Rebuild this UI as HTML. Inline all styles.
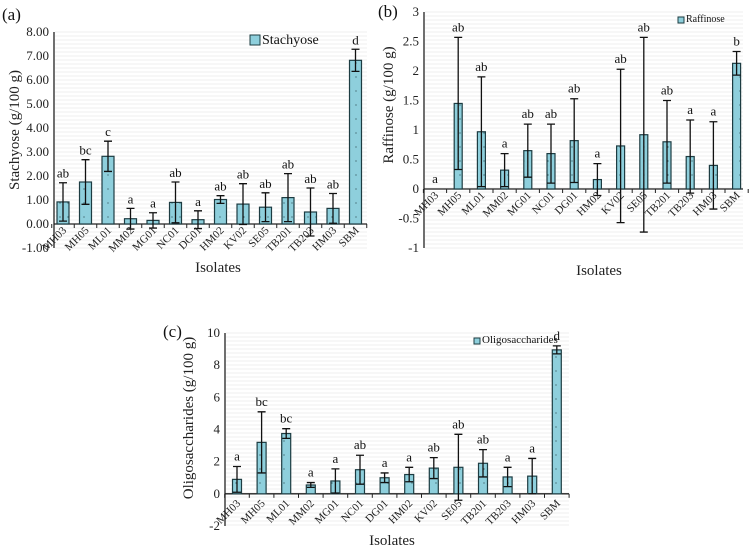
<!DOCTYPE html>
<html><head><meta charset="utf-8">
<style>
html,body{margin:0;padding:0;background:#fff;}
svg, svg text{font-family:"Liberation Serif","DejaVu Serif",serif;}
</style></head>
<body>
<svg id="fig" width="750" height="549" viewBox="0 0 750 549" font-family="Liberation Serif, serif"></svg>
<script>
const categories = ["MH03","MH05","ML01","MM02","MG01","NC01","DG01","HM02","KV02","SE05","TB201","TB203","HM03","SBM"];

const stachyoseValues = [0.92,1.75,2.82,0.22,0.15,0.9,0.18,1.02,0.83,0.7,1.1,0.5,0.65,6.82];
const stachyoseErrors = [0.8,0.93,0.63,0.43,0.32,0.85,0.37,0.16,0.85,0.6,1.0,1.0,0.62,0.46];
const stachyoseLetters = ["ab","bc","c","a","a","ab","a","ab","ab","ab","ab","ab","ab","d"];
const stachyoseTicks = ["-1.00","0.00","1.00","2.00","3.00","4.00","5.00","6.00","7.00","8.00"];

const raffinoseValues = [0,1.45,0.97,0.32,0.65,0.6,0.82,0.16,0.73,0.92,0.8,0.55,0.4,2.13];
const raffinoseErrors = [0,1.12,0.93,0.28,0.45,0.5,0.71,0.27,1.3,1.65,0.7,0.62,0.74,0.2];
const raffinoseLetters = ["a","ab","ab","a","ab","ab","ab","a","ab","ab","ab","a","a","b"];
const raffinoseTicks = ["-1","-0.5","0","0.5","1","1.5","2","2.5","3"];

const oligoValues = [0.9,3.2,3.75,0.55,0.8,1.5,1.0,1.2,1.6,1.65,1.9,1.05,1.1,8.95];
const oligoErrors = [0.8,1.9,0.3,0.15,0.75,0.9,0.3,0.45,0.65,2.05,0.85,0.6,1.1,0.25];
const oligoLetters = ["a","bc","bc","a","a","ab","a","a","ab","ab","ab","a","a","d"];
const oligoTicks = ["-2","0","2","4","6","8","10"];

const NS="http://www.w3.org/2000/svg";
const svg=document.getElementById('fig');
function mk(tag,attrs,parent,text){
  const e=document.createElementNS(NS,tag);
  for(const k in attrs) e.setAttribute(k,attrs[k]);
  if(tag==='text') e.setAttribute('font-family','Liberation Serif, serif');
  if(text!==undefined) e.textContent=text;
  (parent||svg).appendChild(e);
  return e;
}
const defs=mk('defs',{});
const pat=mk('pattern',{id:'dots',width:8,height:14,patternUnits:'userSpaceOnUse'},defs);
mk('rect',{width:8,height:14,fill:'#8ecfdc'},pat);
mk('circle',{cx:4,cy:7,r:0.6,fill:'#2a4a50'},pat);

function chart(cfg, values, errors, letters, ticks){
  const g=mk('g',{});
  
  
  const ymin=parseFloat(ticks[0]), ymax=parseFloat(ticks[ticks.length-1]);
  const y=v=>cfg.y0-(v-ymin)/(ymax-ymin)*(cfg.y0-cfg.y1);
  const x=i=>cfg.cx0+i*cfg.step;
  for(let yy=cfg.y1; yy<=cfg.y0; yy+=4){
    const l=mk('line',{x1:cfg.ax+1,x2:cfg.right,y1:yy,y2:yy,stroke:'#efefef','stroke-width':1},g);
    
    
  }
  const ya=mk('line',{x1:cfg.ax,x2:cfg.ax,y1:cfg.y1,y2:cfg.y0,stroke:'#222','stroke-width':1.3},g);
  
  
  ticks.forEach(t=>{
    const v=parseFloat(t);
    const tl=mk('text',{x:cfg.ax-5,y:y(v)+4,'text-anchor':'end','font-size':cfg.tickFs,fill:'#222'},g,t);
    
    
  });
  const xa=mk('line',{x1:cfg.ax,x2:cfg.right,y1:y(0),y2:y(0),stroke:'#222','stroke-width':1.3},g);
  
  
  for(let i=0;i<=categories.length;i++){
    const tx=x(i)-cfg.step/2;
    mk('line',{x1:tx,x2:tx,y1:y(0),y2:y(0)+4,stroke:'#222'},g);
  }
  categories.forEach((c,i)=>{
    const v=values[i], e=errors[i], cx=x(i);
    if(v!==0){
      const r=mk('rect',{x:cx-cfg.bw/2,y:Math.min(y(v),y(0)),width:cfg.bw,height:Math.abs(y(0)-y(v)),fill:'url(#dots)',stroke:'#1d3c42','stroke-width':1.2},g);
      
      
    }
    if(e>0){
      const eb=mk('path',{d:`M${cx},${y(v-e)}V${y(v+e)}M${cx-4},${y(v+e)}H${cx+4}M${cx-4},${y(v-e)}H${cx+4}`,stroke:'#111','stroke-width':1.3,fill:'none'},g);
      
      
    }
    const lt=mk('text',{x:cx,y:y(v+e)-cfg.letterGap,'text-anchor':'middle','font-size':cfg.letterFs,fill:'#111'},g,letters[i]);
    
    
    const cl=mk('text',{x:cx+4,y:cfg.labelY,'text-anchor':'end','font-size':cfg.catFs,fill:'#222',transform:`rotate(-45 ${cx+4} ${cfg.labelY})`},g,c);
    
    
  });
  const xt=mk('text',{x:cfg.xtX,y:cfg.xtY,'text-anchor':'middle','font-size':cfg.titleFs,fill:'#222'},g,'Isolates');
  
  
  const yt=mk('text',{x:cfg.ytX,y:cfg.ytY,'text-anchor':'middle','font-size':cfg.titleFs,fill:'#222',transform:`rotate(-90 ${cfg.ytX} ${cfg.ytY})`},g,cfg.ytitle);
  
  
  const pl=mk('text',{x:cfg.plX,y:cfg.plY,'font-size':17,fill:'#111'},g,cfg.panel);
  
  
  const lg=mk('g',{},g);
  
  
  mk('rect',{x:cfg.lgX,y:cfg.lgY-cfg.lgS+1,width:cfg.lgS,height:cfg.lgS,fill:'#8ecfdc',stroke:'#1d3c42'},lg);
  mk('text',{x:cfg.lgX+cfg.lgS+2,y:cfg.lgY,'font-size':cfg.lgFs,fill:'#111'},lg,cfg.legend);
}

chart({name:'chart-stachyose',ax:54,right:367,y0:248,y1:32,cx0:63,step:22.5,bw:12,tickFs:13,catFs:11,letterFs:13,letterGap:5,
  labelY:231,xtX:218,xtY:272,titleFs:15,ytX:19,ytY:130,ytitle:'Stachyose (g/100 g)',panel:'(a)',plX:2,plY:20,
  legend:'Stachyose',lgX:250,lgY:44,lgS:10,lgFs:14}, stachyoseValues, stachyoseErrors, stachyoseLetters, stachyoseTicks);

chart({name:'chart-raffinose',ax:424,right:743,y0:248,y1:12,cx0:435,step:23.2,bw:8,tickFs:13,catFs:11,letterFs:13,letterGap:6,
  labelY:196,xtX:599,xtY:275,titleFs:15,ytX:393,ytY:105,ytitle:'Raffinose (g/100 g)',panel:'(b)',plX:378,plY:17,
  legend:'Raffinose',lgX:678,lgY:22,lgS:6,lgFs:10}, raffinoseValues, raffinoseErrors, raffinoseLetters, raffinoseTicks);

chart({name:'chart-oligosaccharides',ax:225,right:569,y0:526,y1:333,cx0:237,step:24.6,bw:9,tickFs:13,catFs:11,letterFs:13,letterGap:6,
  labelY:504,xtX:392,xtY:545,titleFs:15,ytX:193,ytY:418,ytitle:'Oligosaccharides (g/100 g)',panel:'(c)',plX:163,plY:337,
  legend:'Oligosaccharides',lgX:474,lgY:343,lgS:6,lgFs:11}, oligoValues, oligoErrors, oligoLetters, oligoTicks);
</script>
</body></html>
